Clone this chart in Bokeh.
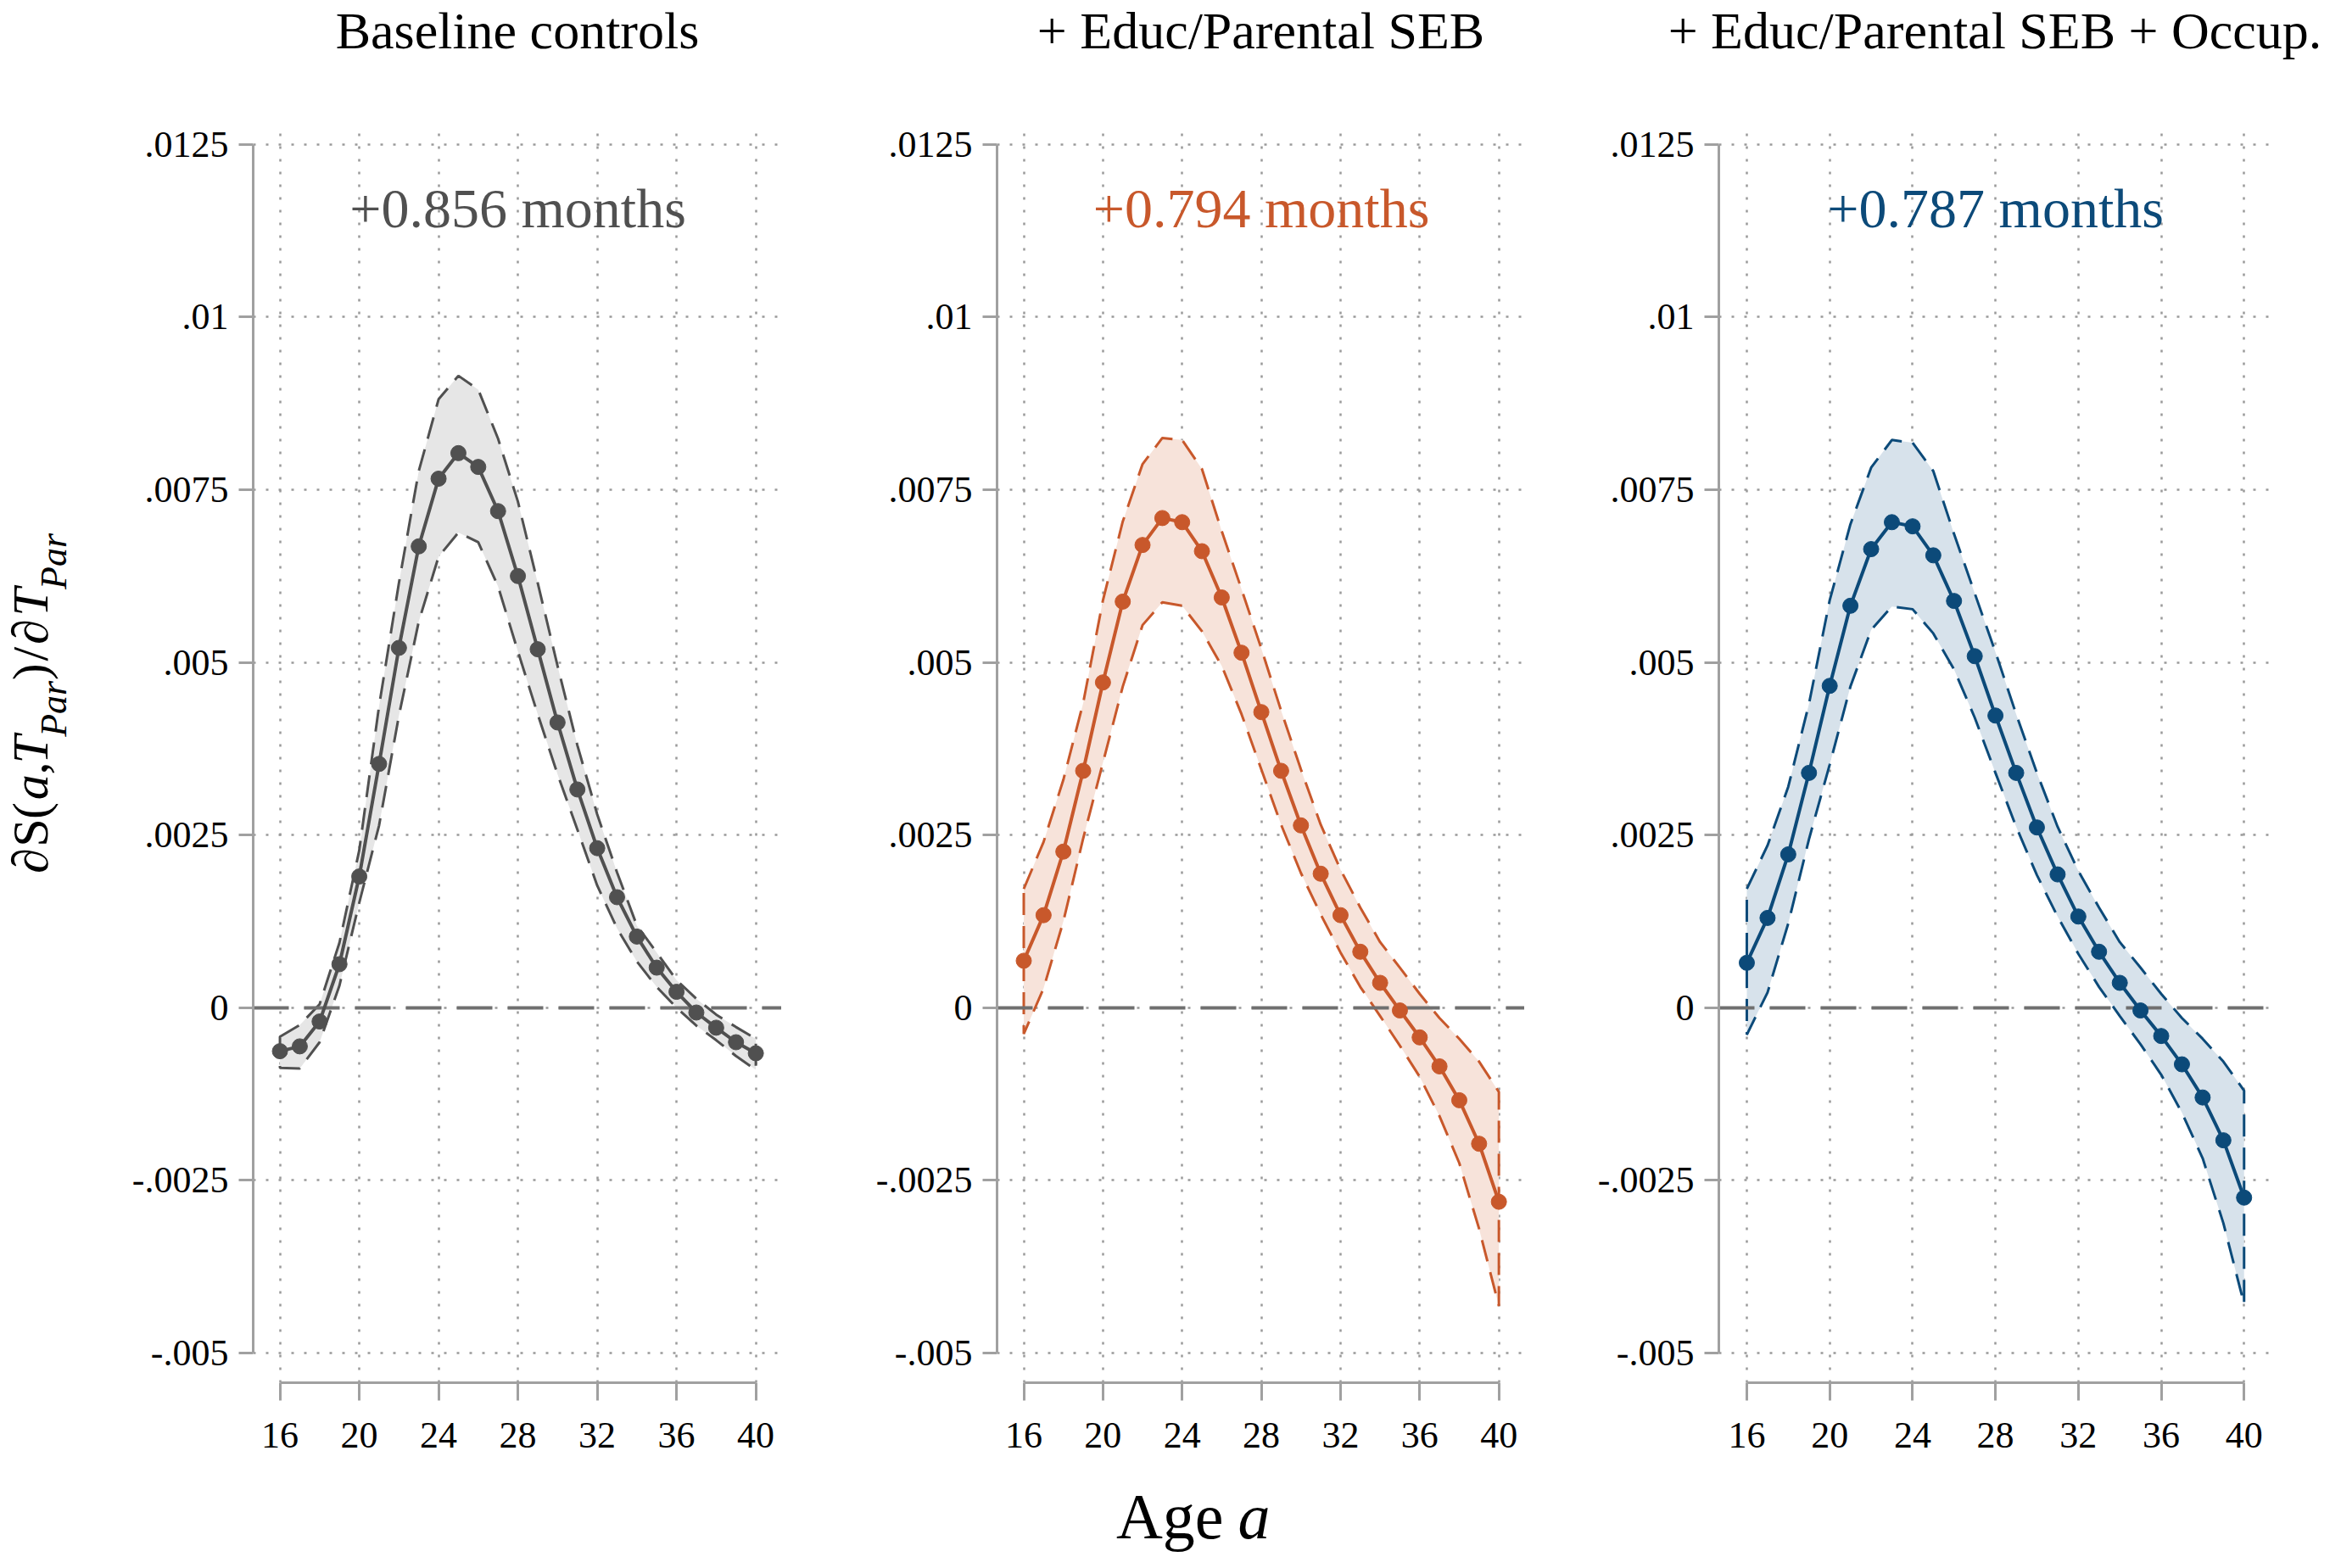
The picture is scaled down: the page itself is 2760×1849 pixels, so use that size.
import math
from bokeh.plotting import figure
from bokeh.models import FixedTicker, Label, Range1d
from bokeh.layouts import row, column
from bokeh.embed import file_html
from bokeh.resources import INLINE

FONT = "Liberation Serif"

# ---------------- data ----------------
ages = list(range(16, 41))
x_ticks = [16, 20, 24, 28, 32, 36, 40]
y_ticks = [-0.005, -0.0025, 0.0, 0.0025, 0.005, 0.0075, 0.01, 0.0125]
y_tick_labels = ["-.005", "-.0025", "0", ".0025", ".005", ".0075", ".01", ".0125"]

titles = ["Baseline controls", "+ Educ/Parental SEB", "+ Educ/Parental SEB + Occup."]
effects = ["+0.856 months", "+0.794 months", "+0.787 months"]

est1 = [-0.00063, -0.00056, -0.00020, 0.00063, 0.00190, 0.00353, 0.00521, 0.00668, 0.00766,
        0.00803, 0.00783, 0.00719, 0.00625, 0.00519, 0.00413, 0.00316, 0.00231, 0.00160,
        0.00103, 0.00058, 0.00023, -0.00007, -0.00029, -0.00050, -0.00066]
up1 = [-0.00042, -0.00025, 0.00005, 0.00094, 0.00228, 0.00437, 0.00615, 0.00777, 0.00881,
       0.00915, 0.00895, 0.00824, 0.00733, 0.00615, 0.00495, 0.00380, 0.00280, 0.00196,
       0.00119, 0.00080, 0.00040, 0.00013, -0.00010, -0.00028, -0.00045]
lo1 = [-0.00087, -0.00088, -0.00050, 0.00032, 0.00152, 0.00264, 0.00423, 0.00559, 0.00653,
       0.00688, 0.00674, 0.00610, 0.00516, 0.00425, 0.00338, 0.00258, 0.00177, 0.00115,
       0.00067, 0.00030, 0.00000, -0.00026, -0.00047, -0.00070, -0.00090]

est2 = [0.00068, 0.00134, 0.00226, 0.00343, 0.00471, 0.00588, 0.00670, 0.00709, 0.00703,
        0.00661, 0.00594, 0.00514, 0.00428, 0.00343, 0.00264, 0.00194, 0.00134, 0.00081,
        0.00036, -0.00004, -0.00043, -0.00085, -0.00134, -0.00197, -0.00281]
up2 = [0.00172, 0.00240, 0.00330, 0.00441, 0.00590, 0.00704, 0.00787, 0.00825, 0.00822,
       0.00780, 0.00690, 0.00606, 0.00520, 0.00430, 0.00345, 0.00265, 0.00200, 0.00145,
       0.00095, 0.00058, 0.00020, -0.00015, -0.00045, -0.00078, -0.00122]
lo2 = [-0.00038, 0.00028, 0.00125, 0.00245, 0.00355, 0.00465, 0.00554, 0.00587, 0.00582,
       0.00545, 0.00495, 0.00425, 0.00345, 0.00265, 0.00195, 0.00135, 0.00080, 0.00030,
       -0.00012, -0.00055, -0.00100, -0.00157, -0.00225, -0.00320, -0.00432]

est3 = [0.00065, 0.00130, 0.00222, 0.00340, 0.00466, 0.00582, 0.00664, 0.00703, 0.00697,
        0.00655, 0.00589, 0.00509, 0.00423, 0.00340, 0.00261, 0.00193, 0.00132, 0.00081,
        0.00036, -0.00004, -0.00041, -0.00082, -0.00130, -0.00192, -0.00275]
up3 = [0.00172, 0.00235, 0.00320, 0.00440, 0.00590, 0.00700, 0.00782, 0.00822, 0.00818,
       0.00777, 0.00686, 0.00600, 0.00515, 0.00425, 0.00340, 0.00262, 0.00198, 0.00145,
       0.00095, 0.00058, 0.00020, -0.00015, -0.00045, -0.00078, -0.00120]
lo3 = [-0.00039, 0.00022, 0.00122, 0.00244, 0.00352, 0.00465, 0.00547, 0.00581, 0.00577,
       0.00542, 0.00490, 0.00420, 0.00340, 0.00262, 0.00192, 0.00132, 0.00078, 0.00030,
       -0.00012, -0.00053, -0.00097, -0.00152, -0.00218, -0.00312, -0.00429]

line_colors = ["#505050", "#c8582b", "#0c4a79"]
fill_colors = ["#e6e6e6", "#f7e3da", "#d7e2eb"]

# ---------------- layout constants (pixels) ----------------
TOTAL_W = 2744
TITLE_H = 127
PANEL_TOP = 20
FRAME_H = 1483
PANEL_BOTTOM = 100
PANEL_H = PANEL_TOP + FRAME_H + PANEL_BOTTOM
BOTTOM_H = 103
YLAB_W = 120
X_RANGE = (14.65, 41.3)
Y_RANGE = (-0.00543, 0.01278)

# panel geometry: (frame width, left border, right border)
geom = [(623, 178, 0), (622, 254, 0), (651, 229, 67)]


def text_strip(width, height):
    s = figure(width=width, height=height, x_range=Range1d(0, width), y_range=Range1d(0, height),
               x_axis_location=None, y_axis_location=None, min_border=0,
               output_backend="svg", toolbar_location=None)
    s.outline_line_color = None
    s.background_fill_color = "white"
    s.border_fill_color = "white"
    s.xgrid.visible = False
    s.ygrid.visible = False
    s.grid.grid_line_color = None
    return s


def make_panel(est, lo, up, color, fill, effect, frame_w, border_l, border_r):
    p = figure(frame_width=frame_w, frame_height=FRAME_H,
               min_border_left=border_l, min_border_right=border_r,
               min_border_top=PANEL_TOP, min_border_bottom=PANEL_BOTTOM,
               x_range=Range1d(*X_RANGE), y_range=Range1d(*Y_RANGE),
               output_backend="svg", toolbar_location=None)
    p.outline_line_color = None
    p.background_fill_color = "white"
    p.border_fill_color = "white"

    for ax in (p.xaxis[0], p.yaxis[0]):
        ax.axis_line_color = "#a0a0a0"
        ax.axis_line_width = 3
        ax.major_tick_line_color = "#a0a0a0"
        ax.major_tick_line_width = 3
        ax.major_tick_in = 0
        ax.minor_tick_out = 0
        ax.minor_tick_in = 0
        ax.major_label_text_font = FONT
        ax.major_label_text_font_size = "44px"
        ax.major_label_text_color = "black"
    p.xaxis.ticker = FixedTicker(ticks=x_ticks)
    p.xaxis.bounds = (x_ticks[0], x_ticks[-1])
    p.xaxis.major_tick_out = 21
    p.xaxis.major_label_standoff = 26
    p.yaxis.ticker = FixedTicker(ticks=y_ticks)
    p.yaxis.bounds = (y_ticks[0], y_ticks[-1])
    p.yaxis.major_tick_out = 17
    p.yaxis.major_label_standoff = 12
    p.yaxis.major_label_overrides = {t: l for t, l in zip(y_ticks, y_tick_labels)}

    p.grid.grid_line_color = "#9a9a9a"
    p.grid.grid_line_dash = "3 12"
    p.grid.grid_line_width = 2.5

    xs = ages + ages[::-1]
    ys = up + lo[::-1]
    p.patch(xs, ys, fill_color=fill, fill_alpha=1.0, line_color=color,
            line_dash="26 13", line_width=3)

    p.hspan(y=[0], line_color="#6f6f6f", line_width=4, line_dash="42 18")

    p.line(ages, est, line_color=color, line_width=4)
    p.scatter(ages, est, size=18, fill_color=color, line_color=color)

    p.add_layout(Label(x=28, y=0.01158, text=effect, text_align="center",
                       text_baseline="middle", text_font=FONT,
                       text_font_size="66px", text_color=color))
    return p


panels = [
    make_panel(est1, lo1, up1, line_colors[0], fill_colors[0], effects[0], *geom[0]),
    make_panel(est2, lo2, up2, line_colors[1], fill_colors[1], effects[1], *geom[1]),
    make_panel(est3, lo3, up3, line_colors[2], fill_colors[2], effects[2], *geom[2]),
]

# ---------------- titles strip ----------------
title_strip = text_strip(TOTAL_W, TITLE_H)
x0 = YLAB_W
for (fw, bl, br), t in zip(geom, titles):
    cx = x0 + bl + fw / 2
    title_strip.add_layout(Label(x=cx, y=TITLE_H - 35, text=t, text_align="center",
                                 text_baseline="middle", text_font=FONT,
                                 text_font_size="62px", text_color="black"))
    x0 += bl + fw + br

# ---------------- y-axis title strip ----------------
# pieces are centred (rotation-invariant anchor); positions are screen y of piece centres
ylab = text_strip(YLAB_W, PANEL_H)
Y0 = TITLE_H + PANEL_H          # screen y of strip bottom
MAIN_X = 35
SUB_X = 63
ylabel_pieces = [
    ("\u2202", "normal", "60px", MAIN_X, 1065),
    ("S", "normal", "60px", MAIN_X, 1029),
    ("(", "normal", "60px", MAIN_X, 1001),
    ("a", "italic", "60px", MAIN_X, 971),
    (",", "normal", "60px", MAIN_X, 947),
    ("T", "italic", "60px", MAIN_X, 923),
    ("Par", "italic", "44px", SUB_X, 871),
    (")", "normal", "60px", MAIN_X, 824),
    ("/", "normal", "60px", MAIN_X, 801),
    ("\u2202", "normal", "60px", MAIN_X, 773),
    ("T", "italic", "60px", MAIN_X, 735),
    ("Par", "italic", "44px", SUB_X, 683),
]
for txt, style, size, sx, sy in ylabel_pieces:
    ylab.add_layout(Label(x=sx, y=Y0 - sy, text=txt, angle=math.pi / 2,
                          text_align="center", text_baseline="middle",
                          text_font=FONT, text_font_style=style, text_font_size=size,
                          text_color="black"))

# ---------------- x-axis title strip ----------------
bottom = text_strip(TOTAL_W, BOTTOM_H)
bottom.add_layout(Label(x=1442, y=BOTTOM_H - 57, text="Age", text_align="right",
                        text_baseline="middle", text_font=FONT,
                        text_font_size="76px", text_color="black"))
bottom.add_layout(Label(x=1459, y=BOTTOM_H - 57, text="a", text_align="left",
                        text_baseline="middle", text_font=FONT, text_font_style="italic",
                        text_font_size="76px", text_color="black"))

layout = column(title_strip, row(ylab, *panels), bottom)
open("out.html", "w").write(file_html(layout, INLINE))
